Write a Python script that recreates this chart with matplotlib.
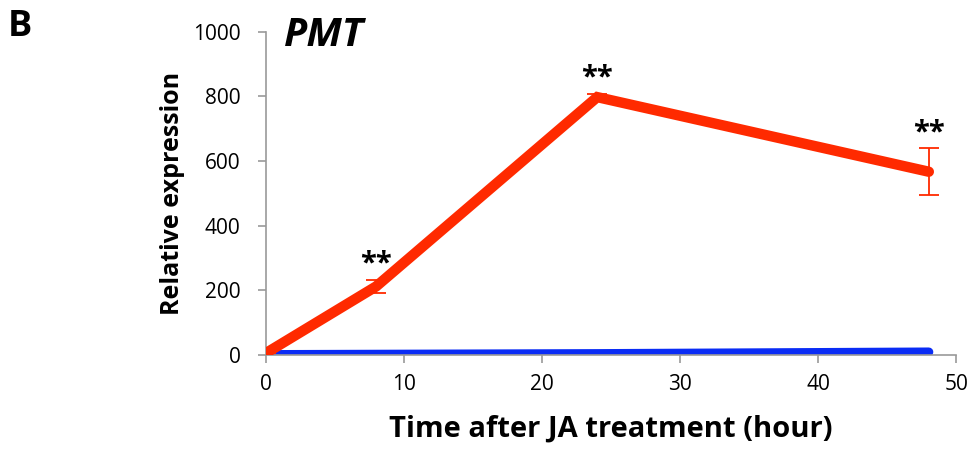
import matplotlib
matplotlib.use("Agg")
import matplotlib.pyplot as plt

hours = [0, 8, 24, 48]
pmt_treated = [5, 212, 798, 567]
pmt_treated_err = [0, 20, 10, 72]
pmt_control = [1, 2, 4, 9]
sig_labels = ["", "**", "**", "**"]
xticks = [0, 10, 20, 30, 40, 50]
yticks = [0, 200, 400, 600, 800, 1000]

plt.rcParams['font.family'] = ['Open Sans', 'DejaVu Sans']

fig = plt.figure(figsize=(9.73, 4.55), dpi=100)
ax = fig.add_axes([0.273, 0.22, 0.71, 0.71])

ax.plot(hours, pmt_control, color='#0a2cf5', lw=6.5, solid_capstyle='round', zorder=2)
ax.errorbar(hours, pmt_treated, yerr=pmt_treated_err, fmt='none', ecolor='#ff2a00',
            elinewidth=1.3, capsize=7, capthick=1.3, zorder=3)
ax.plot(hours, pmt_treated, color='#ff2a00', lw=7.5, solid_capstyle='round',
        solid_joinstyle='miter', zorder=4)

for x, y, e, s in zip(hours, pmt_treated, pmt_treated_err, sig_labels):
    if s:
        ax.text(x, y + e + 4, s, ha='center', va='bottom', fontsize=21, fontweight='bold')

ax.set_xlim(0, 50)
ax.set_ylim(0, 1000)
ax.set_xticks(xticks)
ax.set_yticks(yticks)
ax.tick_params(axis='both', labelsize=15, color='#999999', length=6, width=1.2, direction='out')
ax.tick_params(axis='y', pad=12)
ax.tick_params(axis='x', pad=8)
for side in ['top', 'right']:
    ax.spines[side].set_visible(False)
for side in ['left', 'bottom']:
    ax.spines[side].set_color('#999999')
    ax.spines[side].set_linewidth(1.2)

ax.set_xlabel('Time after JA treatment (hour)', fontsize=21, fontweight='bold', labelpad=14)
ax.set_ylabel('Relative expression', fontsize=18, fontweight='bold', labelpad=6)
ax.text(0.027, 0.99, 'PMT', transform=ax.transAxes, fontsize=29, fontweight='bold',
        fontstyle='italic', ha='left', va='center')
fig.text(0.008, 0.94, 'B', fontsize=26, fontweight='bold', ha='left', va='center')

fig.savefig('out.png', dpi=100)
